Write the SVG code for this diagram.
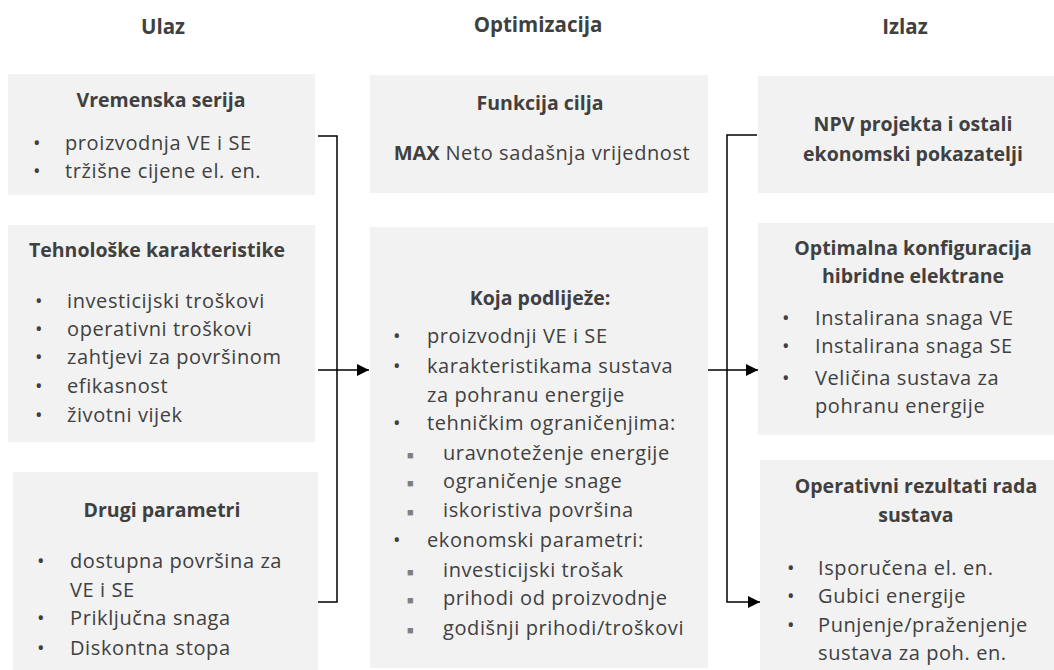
<svg xmlns="http://www.w3.org/2000/svg" width="1054" height="670" viewBox="0 0 1054 670">
<defs>
<style>
.box{fill:#f2f2f2;}
text{font-family:"Open Sans","Liberation Sans",sans-serif;fill:#404040;font-size:20px;letter-spacing:0.6px;}
.t{font-weight:bold;text-anchor:middle;font-size:19.5px;letter-spacing:0;}
.h{font-weight:bold;text-anchor:middle;font-size:20.5px;letter-spacing:0;}
.c{fill:none;stroke:#000;stroke-width:1.5;}
.sq{fill:#7f7f7f;font-size:11px;}
</style>
<marker id="ah" viewBox="0 0 10 10" refX="10" refY="5" markerWidth="8" markerHeight="8" markerUnits="strokeWidth" orient="auto">
<path d="M0,0 L10,5 L0,10 z" fill="#000"/>
</marker>
</defs>
<rect width="1054" height="670" fill="#fff"/>
<g id="headers">
<text class="h" x="163" y="34">Ulaz</text>
<text class="h" x="538" y="32">Optimizacija</text>
<text class="h" x="905" y="34">Izlaz</text>
</g>
<g id="vremenska">
<rect class="box" x="8" y="74" width="307" height="121"/>
<text class="t" x="161" y="107">Vremenska serija</text>
<text x="33" y="150">•</text><text x="65" y="150">proizvodnja VE i SE</text>
<text x="33" y="178">•</text><text x="65" y="178">tržišne cijene el. en.</text>
</g>
<g id="tehnoloske">
<rect class="box" x="8" y="225" width="307" height="217"/>
<text class="t" x="157" y="257">Tehnološke karakteristike</text>
<text x="35" y="308">•</text><text x="67" y="308">investicijski troškovi</text>
<text x="35" y="336">•</text><text x="67" y="336">operativni troškovi</text>
<text x="35" y="364">•</text><text x="67" y="364">zahtjevi za površinom</text>
<text x="35" y="393">•</text><text x="67" y="393">efikasnost</text>
<text x="35" y="422">•</text><text x="67" y="422">životni vijek</text>
</g>
<g id="drugi">
<rect class="box" x="13" y="472" width="305" height="198"/>
<text class="t" x="162" y="517">Drugi parametri</text>
<text x="37" y="568">•</text><text x="70" y="568">dostupna površina za</text>
<text x="70" y="597">VE i SE</text>
<text x="37" y="625">•</text><text x="70" y="625">Priključna snaga</text>
<text x="37" y="655">•</text><text x="70" y="655">Diskontna stopa</text>
</g>
<g id="funkcija">
<rect class="box" x="370" y="75" width="338" height="118"/>
<text class="t" x="540" y="110">Funkcija cilja</text>
<text x="542" y="160" text-anchor="middle"><tspan font-weight="bold" letter-spacing="0">MAX</tspan> Neto sadašnja vrijednost</text>
</g>
<g id="koja">
<rect class="box" x="370" y="227" width="338" height="441"/>
<text class="t" x="540" y="305">Koja podliježe:</text>
<text x="393" y="343">•</text><text x="427" y="343">proizvodnji VE i SE</text>
<text x="393" y="373">•</text><text x="427" y="373">karakteristikama sustava</text>
<text x="427" y="402">za pohranu energije</text>
<text x="393" y="430">•</text><text x="427" y="430">tehničkim ograničenjima:</text>
<text class="sq" x="407" y="459">■</text><text x="443" y="460">uravnoteženje energije</text>
<text class="sq" x="407" y="487">■</text><text x="443" y="488">ograničenje snage</text>
<text class="sq" x="407" y="516">■</text><text x="443" y="517">iskoristiva površina</text>
<text x="393" y="547">•</text><text x="427" y="547">ekonomski parametri:</text>
<text class="sq" x="407" y="576">■</text><text x="443" y="577">investicijski trošak</text>
<text class="sq" x="407" y="604">■</text><text x="443" y="605">prihodi od proizvodnje</text>
<text class="sq" x="407" y="634">■</text><text x="443" y="635">godišnji prihodi/troškovi</text>
</g>
<g id="npv">
<rect class="box" x="758" y="76" width="296" height="117"/>
<text class="t" x="913" y="131">NPV projekta i ostali</text>
<text class="t" x="913" y="161">ekonomski pokazatelji</text>
</g>
<g id="optimalna">
<rect class="box" x="758" y="223" width="296" height="212"/>
<text class="t" x="913" y="255">Optimalna konfiguracija</text>
<text class="t" x="913" y="283">hibridne elektrane</text>
<text x="782" y="325">•</text><text x="815" y="325">Instalirana snaga VE</text>
<text x="782" y="353">•</text><text x="815" y="353">Instalirana snaga SE</text>
<text x="782" y="385">•</text><text x="815" y="385">Veličina sustava za</text>
<text x="815" y="413">pohranu energije</text>
</g>
<g id="operativni">
<rect class="box" x="760" y="460" width="294" height="210"/>
<text class="t" x="916" y="493">Operativni rezultati rada</text>
<text class="t" x="916" y="522">sustava</text>
<text x="787" y="575">•</text><text x="818" y="575">Isporučena el. en.</text>
<text x="787" y="603">•</text><text x="818" y="603">Gubici energije</text>
<text x="787" y="632">•</text><text x="818" y="632">Punjenje/praženjenje</text>
<text x="818" y="660">sustava za poh. en.</text>
</g>
<g id="connectors">
<path class="c" d="M318,136 H337 V602 H318"/>
<path class="c" d="M318,370 H369" marker-end="url(#ah)"/>
<path class="c" d="M708,370 H758" marker-end="url(#ah)"/>
<path class="c" d="M757,135 H727 V602 H760" marker-end="url(#ah)" />
</g>
</svg>
